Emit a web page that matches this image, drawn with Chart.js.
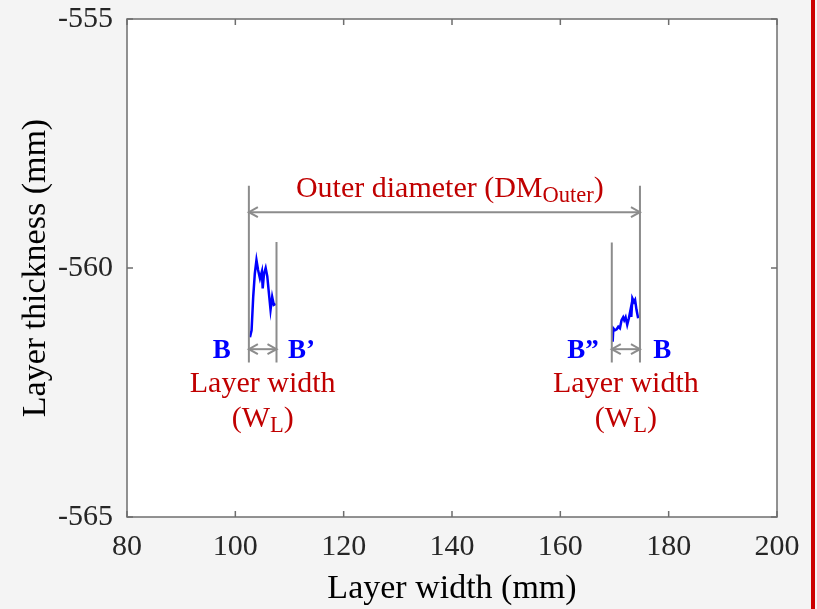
<!DOCTYPE html>
<html>
<head>
<meta charset="utf-8">
<script src="https://cdn.jsdelivr.net/npm/chart.js@4.4.0/dist/chart.umd.min.js"></script>
<style>
  html, body { margin: 0; padding: 0; background: #f4f4f4; }
  canvas { display: block; }
</style>
</head>
<body>
<canvas id="layerChart" width="817" height="609"></canvas>
<script>
//左側の断面データ (B → B')
var leftX = [102.7, 103.0, 103.3, 103.6, 103.9, 104.2, 104.55, 104.9, 105.05, 105.3, 105.6, 105.9, 106.2, 106.5, 106.8, 107.1, 107.45];
var leftY = [-561.39, -561.25, -560.58, -560.11, -559.84, -560.04, -560.21, -560.07, -560.41, -560.11, -560.0, -560.17, -560.51, -560.84, -560.58, -560.74, -560.72];

//右側の断面データ (B'' → B)
var rightX = [169.66, 169.78, 170.1, 170.4, 170.7, 171.0, 171.3, 171.6, 171.8, 172.05, 172.35, 172.65, 172.96, 173.1, 173.3, 173.6, 173.8, 174.06, 174.37];
var rightY = [-561.48, -561.21, -561.25, -561.23, -561.18, -561.21, -561.05, -560.99, -561.05, -560.99, -561.14, -561.01, -560.84, -560.98, -560.61, -560.68, -560.64, -560.84, -561.01];

//軸の目盛り
var xTicks = [80, 100, 120, 140, 160, 180, 200];
var yTicks = [-565, -560, -555];

//境界線と注記 (データ単位)
var boundX = [102.5, 107.6, 169.5, 174.7];
var boundTop = [-558.35, -559.48, -559.49, -558.35];
var boundBottom = -561.9;
var outerArrowY = -558.88;
var layerArrowY = -561.63;
var bLabels = ['B', 'B\u2019', 'B\u201D', 'B'];
var bLabelX = [97.5, 112.2, 164.2, 178.8];
var bLabelY = -561.81;
var widthTextX = [105.05, 172.1];
var widthTextY = [-562.48, -563.19];
var outerTextX = 139.6;
var outerTextY = -558.57;

var serif = "'Liberation Serif', 'Times New Roman', serif";

function toPoints(xs, ys) {
  return xs.map(function (x, i) { return { x: x, y: ys[i] }; });
}

//矢じり
function arrowHead(ctx, x, y, dir) {
  ctx.beginPath();
  ctx.moveTo(x - dir * 9, y - 5);
  ctx.lineTo(x, y);
  ctx.lineTo(x - dir * 9, y + 5);
  ctx.stroke();
}

//両矢印
function dimArrow(ctx, x1, x2, y) {
  ctx.beginPath();
  ctx.moveTo(x1, y);
  ctx.lineTo(x2, y);
  ctx.stroke();
  arrowHead(ctx, x1, y, -1);
  arrowHead(ctx, x2, y, 1);
}

//添字つきテキスト
function richText(ctx, parts, cx, y, size) {
  var w = 0;
  parts.forEach(function (p) {
    ctx.font = (p.sub ? size * 0.75 : size) + 'px ' + serif;
    w += ctx.measureText(p.t).width;
  });
  var x = cx - w / 2;
  ctx.textAlign = 'left';
  parts.forEach(function (p) {
    ctx.font = (p.sub ? size * 0.75 : size) + 'px ' + serif;
    ctx.fillText(p.t, x, y + (p.sub ? size * 0.17 : 0));
    x += ctx.measureText(p.t).width;
  });
}

var figurePlugin = {
  id: 'figure',
  beforeDraw: function (chart) {
    var ctx = chart.ctx;
    var a = chart.chartArea;
    ctx.save();
    ctx.fillStyle = '#f4f4f4';
    ctx.fillRect(0, 0, chart.width, chart.height);
    ctx.fillStyle = '#ffffff';
    ctx.fillRect(a.left, a.top, a.right - a.left, a.bottom - a.top);
    //右端の赤線
    ctx.fillStyle = '#cc0000';
    ctx.fillRect(811, 0, 4, chart.height);
    ctx.restore();
  },
  afterDraw: function (chart) {
    var ctx = chart.ctx;
    var a = chart.chartArea;
    var xs = chart.scales.x;
    var ys = chart.scales.y;
    ctx.save();

    //枠と内向きの目盛り
    ctx.strokeStyle = '#6e6e6e';
    ctx.lineWidth = 1.5;
    ctx.strokeRect(a.left, a.top, a.right - a.left, a.bottom - a.top);
    ctx.beginPath();
    xTicks.forEach(function (v) {
      var px = xs.getPixelForValue(v);
      ctx.moveTo(px, a.bottom); ctx.lineTo(px, a.bottom - 6);
      ctx.moveTo(px, a.top); ctx.lineTo(px, a.top + 6);
    });
    yTicks.forEach(function (v) {
      var py = ys.getPixelForValue(v);
      ctx.moveTo(a.left, py); ctx.lineTo(a.left + 6, py);
      ctx.moveTo(a.right, py); ctx.lineTo(a.right - 6, py);
    });
    ctx.stroke();

    //境界線
    ctx.strokeStyle = '#8c8c8c';
    ctx.lineWidth = 2;
    var yb = ys.getPixelForValue(boundBottom);
    ctx.beginPath();
    boundX.forEach(function (v, i) {
      var px = xs.getPixelForValue(v);
      ctx.moveTo(px, ys.getPixelForValue(boundTop[i]));
      ctx.lineTo(px, yb);
    });
    ctx.stroke();

    //矢印
    var bx = boundX.map(function (v) { return xs.getPixelForValue(v); });
    dimArrow(ctx, bx[0], bx[3], ys.getPixelForValue(outerArrowY));
    dimArrow(ctx, bx[0], bx[1], ys.getPixelForValue(layerArrowY));
    dimArrow(ctx, bx[2], bx[3], ys.getPixelForValue(layerArrowY));

    //B ラベル
    ctx.fillStyle = '#0000ff';
    ctx.font = 'bold 27px ' + serif;
    ctx.textAlign = 'center';
    ctx.textBaseline = 'alphabetic';
    bLabels.forEach(function (t, i) {
      ctx.fillText(t, xs.getPixelForValue(bLabelX[i]), ys.getPixelForValue(bLabelY));
    });

    //赤い注記
    ctx.fillStyle = '#c00000';
    richText(ctx, [{ t: 'Outer diameter (DM' }, { t: 'Outer', sub: true }, { t: ')' }],
      xs.getPixelForValue(outerTextX), ys.getPixelForValue(outerTextY), 30);
    widthTextX.forEach(function (v) {
      var cx = xs.getPixelForValue(v);
      richText(ctx, [{ t: 'Layer width' }], cx, ys.getPixelForValue(widthTextY[0]), 30);
      richText(ctx, [{ t: '(W' }, { t: 'L', sub: true }, { t: ')' }], cx, ys.getPixelForValue(widthTextY[1]), 30);
    });

    ctx.restore();
  }
};

var ctx = document.getElementById('layerChart');
var layerChart = new Chart(ctx, {
  type: 'scatter',
  data: {
    datasets: [
      {
        data: toPoints(leftX, leftY),
        showLine: true,
        borderColor: '#0000ff',
        borderWidth: 2.5,
        pointRadius: 0,
        tension: 0
      },
      {
        data: toPoints(rightX, rightY),
        showLine: true,
        borderColor: '#0000ff',
        borderWidth: 2.5,
        pointRadius: 0,
        tension: 0
      }
    ]
  },
  options: {
    responsive: false,
    animation: false,
    layout: { padding: { top: 19, right: 40, left: 0, bottom: 0 } },
    plugins: {
      legend: { display: false },
      tooltip: { enabled: false }
    },
    scales: {
      x: {
        type: 'linear',
        min: xTicks[0],
        max: xTicks[xTicks.length - 1],
        afterBuildTicks: function (scale) {
          scale.ticks = xTicks.map(function (v) { return { value: v }; });
        },
        afterFit: function (scale) {
          scale.height = 92;
          scale.paddingLeft = 0;
          scale.paddingRight = 0;
        },
        grid: { display: false, drawTicks: false },
        border: { display: false },
        ticks: {
          padding: 12,
          color: '#262626',
          font: { family: serif, size: 30 },
          callback: function (v) { return String(v); }
        },
        title: {
          display: true,
          text: 'Layer width (mm)',
          color: '#000000',
          font: { family: serif, size: 34 },
          padding: { top: 0, bottom: 0 }
        }
      },
      y: {
        type: 'linear',
        min: yTicks[0],
        max: yTicks[yTicks.length - 1],
        afterBuildTicks: function (scale) {
          scale.ticks = yTicks.map(function (v) { return { value: v }; });
        },
        afterFit: function (scale) {
          scale.width = 127;
          scale.paddingTop = 0;
          scale.paddingBottom = 0;
        },
        grid: { display: false, drawTicks: false },
        border: { display: false },
        ticks: {
          padding: 14,
          color: '#262626',
          font: { family: serif, size: 30 },
          callback: function (v) { return String(v); }
        },
        title: {
          display: true,
          text: 'Layer thickness (mm)',
          color: '#000000',
          font: { family: serif, size: 34 },
          padding: { top: 16, bottom: 0 }
        }
      }
    }
  },
  plugins: [figurePlugin]
});
</script>
</body>
</html>
